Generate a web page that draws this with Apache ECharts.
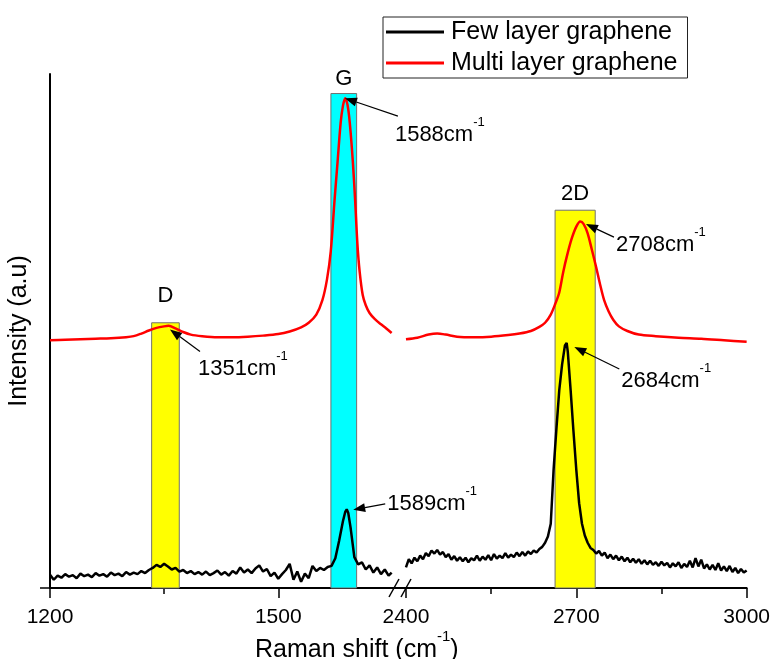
<!DOCTYPE html>
<html><head><meta charset="utf-8">
<script src="https://cdn.jsdelivr.net/npm/echarts@6/dist/echarts.min.js"></script>
<style>html,body{margin:0;padding:0;background:#fff}#c{width:773px;height:659px}</style>
</head><body><div id="c"></div>
<script>
const FONT = "'Liberation Sans', Arial, sans-serif";

// ---- data ----
const seriesNames = ['Few layer graphene', 'Multi layer graphene'];
const leftTicks = [1200, 1500];
const leftMinorTicks = [1350];
const rightTicks = [2400, 2700, 3000];
const rightMinorTicks = [2550, 2850];

const fewLeft = [
[1200,2.6],[1205,1.6],[1210,2.4],[1215,2.0],[1220,2.7],[1225,2.2],[1230,2.5],[1235,1.9],[1240,2.8],[1245,2.3],
[1250,2.6],[1255,2.1],[1260,2.9],[1265,2.4],[1270,2.7],[1275,2.2],[1280,3.0],[1285,2.5],[1290,2.8],[1295,2.3],
[1300,3.1],[1305,2.6],[1310,3.0],[1315,2.7],[1320,3.3],[1325,2.9],[1330,3.5],[1335,3.9],[1340,4.5],[1345,4.1],
[1350,4.7],[1355,4.2],[1360,3.6],[1365,3.9],[1370,3.2],[1375,3.5],[1380,2.9],[1385,3.3],[1390,2.7],[1395,3.1],
[1400,2.6],[1405,3.2],[1410,2.5],[1415,2.9],[1420,3.4],[1425,2.6],[1430,3.1],[1435,2.4],[1440,3.3],[1445,2.8],
[1450,4.0],[1455,3.0],[1460,3.6],[1465,2.9],[1470,3.8],[1475,4.4],[1480,3.2],[1485,3.7],[1490,2.3],[1495,3.0],
[1500,1.8],[1505,2.7],[1510,3.5],[1515,4.7],[1520,1.6],[1525,3.2],[1530,1.2],[1535,2.8],[1540,1.9],[1545,4.3],
[1550,3.3],[1555,3.9],[1560,3.5],[1565,4.1],[1570,4.3],[1575,5.8],[1580,9.2],[1585,13.0],[1588,14.8],[1590,15.3],
[1592,14.6],[1595,11.8],[1600,6.0],[1605,4.6],[1610,5.0],[1615,3.6],[1620,4.4],[1625,3.0],[1630,4.0],[1635,2.7],
[1640,3.6],[1645,2.4],[1649,3.0]
];

const fewRight = [
[2400,4.0],[2405,5.6],[2410,4.8],[2415,5.9],[2420,5.2],[2425,6.3],[2430,5.6],[2435,6.8],[2440,6.2],[2445,7.3],
[2450,6.7],[2455,7.4],[2460,6.5],[2465,7.0],[2470,6.0],[2475,6.6],[2480,5.5],[2485,6.2],[2490,5.3],[2495,6.0],
[2500,5.2],[2505,5.9],[2510,5.0],[2515,5.8],[2520,5.4],[2525,6.3],[2530,5.3],[2535,6.1],[2540,5.5],[2545,6.4],
[2550,5.4],[2555,6.6],[2560,5.7],[2565,6.3],[2570,5.8],[2575,6.8],[2580,5.9],[2585,6.5],[2590,6.0],[2595,6.9],
[2600,6.2],[2605,7.0],[2610,6.3],[2615,7.1],[2620,6.6],[2625,7.3],[2630,6.9],[2635,7.6],[2640,8.0],[2645,8.8],
[2650,10.0],[2655,12.5],[2660,23.0],[2665,31.0],[2670,38.5],[2675,43.5],[2680,47.2],[2683,47.7],[2685,46.0],[2690,38.5],
[2695,30.5],[2700,23.0],[2705,16.5],[2710,12.5],[2715,10.2],[2720,8.8],[2725,7.8],[2730,7.4],[2735,6.7],[2740,7.2],
[2745,6.3],[2750,6.9],[2755,5.8],[2760,6.5],[2765,5.6],[2770,6.3],[2775,5.4],[2780,6.1],[2785,5.2],[2790,5.9],
[2795,5.0],[2800,5.7],[2805,4.9],[2810,5.6],[2815,4.7],[2820,5.4],[2825,4.6],[2830,5.3],[2835,4.5],[2840,5.0],
[2845,4.3],[2850,5.1],[2855,4.4],[2860,4.9],[2865,4.0],[2870,4.8],[2875,4.2],[2880,5.0],[2885,3.9],[2890,4.7],
[2895,4.1],[2900,5.3],[2905,4.0],[2910,5.8],[2915,4.2],[2920,5.5],[2925,3.8],[2930,4.6],[2935,3.6],[2940,4.5],
[2945,3.5],[2950,4.8],[2955,3.4],[2960,4.2],[2965,3.3],[2970,4.3],[2975,3.1],[2980,3.9],[2985,2.9],[2990,3.7],
[2995,3.0],[3000,3.4]
];

const multiLeft = [
[1200,48.2],[1220,48.3],[1240,48.4],[1260,48.5],[1280,48.6],[1300,48.8],[1310,49.0],[1320,49.5],[1330,50.1],[1340,50.6],
[1350,50.9],[1356,51.0],[1365,50.5],[1375,49.8],[1385,49.3],[1400,49.0],[1420,48.8],[1440,48.8],[1460,48.9],[1480,49.1],
[1500,49.4],[1515,49.9],[1530,50.7],[1540,51.6],[1550,53.2],[1558,56.0],[1564,60.0],[1569,65.5],[1574,75.5],[1578,83.0],
[1582,90.5],[1585,93.8],[1588,95.3],[1591,94.0],[1594,90.5],[1598,83.0],[1601,75.5],[1604,67.0],[1607,61.5],[1611,57.0],
[1615,55.0],[1620,53.5],[1627,52.3],[1635,51.3],[1642,50.5],[1649,49.6]
];

const multiRight = [
[2400,48.4],[2420,48.7],[2440,49.3],[2455,49.5],[2470,49.3],[2490,48.9],[2520,48.8],[2550,48.9],[2580,49.2],[2600,49.5],
[2620,50.0],[2635,50.8],[2645,51.6],[2655,53.2],[2663,55.3],[2670,57.5],[2677,61.5],[2684,64.8],[2692,68.0],[2700,70.3],
[2707,71.3],[2713,70.8],[2720,69.0],[2727,66.0],[2735,62.4],[2742,59.0],[2749,56.0],[2757,53.8],[2765,52.2],[2775,50.9],
[2790,50.0],[2810,49.3],[2840,49.0],[2880,48.7],[2920,48.5],[2960,48.2],[3000,47.9]
];

// highlighted bands
const bandPanel = [0, 0, 1];
const bandFrom = [1333.6, 1569.2, 2662.6];
const bandTo = [1369.9, 1603.0, 2733.3];
const bandTop = [51.6, 96.2, 73.5];
const bandLabel = ['D', 'G', '2D'];

// peak annotations
const peakPanel = [0, 0, 0, 1, 1];
const peakX = [1357.7, 1587.6, 1598.5, 2717, 2696.5];
const peakY = [50.3, 95.3, 15.2, 70.8, 46.9];
const peakLabel = ['1351', '1588', '1589', '2708', '2684'];

// ---- styles / layout ----
const bandColors = ['#ffff00', '#00ffff', '#ffff00'];
const bandLabelGap = [15, 3, 5];
const arrowOffset = [[30, 22], [53, 18], [32, -6], [28, 13], [45, 22]];
const textOffset = [[-2, 13], [-3, 15], [2, -4], [2, 4], [2, 8]];

const chart = echarts.init(document.getElementById('c'));

function bandData(panel) {
  const out = [];
  for (let i = 0; i < bandLabel.length; i++) {
    if (bandPanel[i] !== panel) continue;
    out.push([
      { name: bandLabel[i], xAxis: bandFrom[i], yAxis: 0,
        itemStyle: { color: bandColors[i], borderColor: '#707070', borderWidth: 1, opacity: 1 },
        label: { show: true, position: 'top', distance: bandLabelGap[i], fontSize: 22, color: '#000', fontFamily: FONT } },
      { xAxis: bandTo[i], yAxis: bandTop[i] }
    ]);
  }
  return out;
}

const plainNum = v => String(Math.round(v));
const xCommon = {
  type: 'value', position: 'bottom', splitLine: { show: false },
  axisLine: { show: true, onZero: false, lineStyle: { color: '#000', width: 2 } }
};

const option = {
  animation: false,
  textStyle: { fontFamily: FONT, color: '#000' },
  title: {
    text: '{m|Raman shift (cm}{s|-1}{m|)}',
    left: 255, top: 629, padding: 0,
    textStyle: { fontFamily: FONT, fontWeight: 'normal', color: '#000',
      rich: { m: { fontSize: 25, lineHeight: 34, verticalAlign: 'bottom', fontFamily: FONT, color: '#000' },
              s: { fontSize: 15, verticalAlign: 'top', fontFamily: FONT, color: '#000' } } }
  },
  legend: {
    data: seriesNames, orient: 'vertical', left: 383, top: 17, icon: 'rect',
    padding: [2, 10, 2, 3], itemGap: 5, itemWidth: 58, itemHeight: 3,
    borderColor: '#222', borderWidth: 1, backgroundColor: '#fff',
    textStyle: { fontFamily: FONT, fontSize: 25, color: '#000', lineHeight: 26, padding: [0, 0, 0, 2] }
  },
  grid: [
    { left: 50, top: 74, width: 350, height: 514 },
    { left: 400, top: 74, width: 348, height: 514 }
  ],
  xAxis: [
    Object.assign({}, xCommon, { gridIndex: 0, min: 1200, max: 1660,
      axisTick: { show: true, customValues: leftTicks, length: 10, lineStyle: { color: '#000', width: 1.5 } },
      axisLabel: { show: true, customValues: leftTicks, formatter: plainNum, fontSize: 21, color: '#000', margin: 19, fontFamily: FONT } }),
    Object.assign({}, xCommon, { gridIndex: 1, min: 2389.5, max: 3000,
      axisTick: { show: true, customValues: rightTicks, length: 10, lineStyle: { color: '#000', width: 1.5 } },
      axisLabel: { show: true, customValues: rightTicks, formatter: plainNum, fontSize: 21, color: '#000', margin: 19, fontFamily: FONT } }),
    { type: 'value', gridIndex: 0, position: 'bottom', min: 1200, max: 1660, splitLine: { show: false },
      axisLine: { show: false }, axisLabel: { show: false },
      axisTick: { show: true, customValues: leftMinorTicks, length: 6, lineStyle: { color: '#000', width: 1.5 } } },
    { type: 'value', gridIndex: 1, position: 'bottom', min: 2389.5, max: 3000, splitLine: { show: false },
      axisLine: { show: false }, axisLabel: { show: false },
      axisTick: { show: true, customValues: rightMinorTicks, length: 6, lineStyle: { color: '#000', width: 1.5 } } }
  ],
  yAxis: [
    { type: 'value', gridIndex: 0, min: 0, max: 100, splitLine: { show: false },
      axisLine: { show: true, onZero: false, lineStyle: { color: '#000', width: 2 } },
      axisTick: { show: true, customValues: [0], length: 10, lineStyle: { color: '#000', width: 1.5 } },
      axisLabel: { show: false },
      name: 'Intensity (a.u)', nameLocation: 'middle', nameGap: 18,
      nameTextStyle: { fontSize: 25, color: '#000', fontFamily: FONT } },
    { type: 'value', gridIndex: 1, min: 0, max: 100, show: false }
  ],
  series: [
    { type: 'line', xAxisIndex: 0, yAxisIndex: 0, data: [], z: 1, silent: true,
      markArea: { silent: true, data: bandData(0) } },
    { type: 'line', xAxisIndex: 1, yAxisIndex: 1, data: [], z: 1, silent: true,
      markArea: { silent: true, data: bandData(1) } },
    { name: seriesNames[0], type: 'line', xAxisIndex: 0, yAxisIndex: 0, data: fewLeft, symbol: 'none', z: 3,
      lineStyle: { color: '#000', width: 2.5 }, itemStyle: { color: '#000' } },
    { name: seriesNames[0], type: 'line', xAxisIndex: 1, yAxisIndex: 1, data: fewRight, symbol: 'none', z: 3,
      lineStyle: { color: '#000', width: 2.5 }, itemStyle: { color: '#000' } },
    { name: seriesNames[1], type: 'line', xAxisIndex: 0, yAxisIndex: 0, data: multiLeft, symbol: 'none', z: 3, smooth: 0.3,
      lineStyle: { color: '#ff0000', width: 2.5 }, itemStyle: { color: '#ff0000' } },
    { name: seriesNames[1], type: 'line', xAxisIndex: 1, yAxisIndex: 1, data: multiRight, symbol: 'none', z: 3, smooth: 0.3,
      lineStyle: { color: '#ff0000', width: 2.5 }, itemStyle: { color: '#ff0000' } }
  ]
};
chart.setOption(option);

// annotations and axis-break marks
const g = [];
for (let i = 0; i < peakLabel.length; i++) {
  const head = chart.convertToPixel({ gridIndex: peakPanel[i] }, [peakX[i], peakY[i]]);
  const tail = [head[0] + arrowOffset[i][0], head[1] + arrowOffset[i][1]];
  const dx = head[0] - tail[0], dy = head[1] - tail[1];
  const len = Math.sqrt(dx * dx + dy * dy);
  const ux = dx / len, uy = dy / len;
  const hl = 12, hw = 4.5;
  const bx = head[0] - ux * hl, by = head[1] - uy * hl;
  g.push({ type: 'line', z: 20, shape: { x1: tail[0], y1: tail[1], x2: bx, y2: by }, style: { stroke: '#000', lineWidth: 1.2 } });
  g.push({ type: 'polygon', z: 20, shape: { points: [[head[0], head[1]], [bx - uy * hw, by + ux * hw], [bx + uy * hw, by - ux * hw]] }, style: { fill: '#000' } });
  g.push({ type: 'text', z: 20, x: tail[0] + textOffset[i][0], y: tail[1] + textOffset[i][1],
    style: { text: '{m|' + peakLabel[i] + 'cm}{s|-1}', align: 'left', verticalAlign: 'middle',
      rich: { m: { fontSize: 22, lineHeight: 30, verticalAlign: 'bottom', fontFamily: FONT, fill: '#000' },
              s: { fontSize: 13, verticalAlign: 'top', fontFamily: FONT, fill: '#000' } } } });
}
g.push({ type: 'line', z: 20, shape: { x1: 389, y1: 597, x2: 399, y2: 579 }, style: { stroke: '#000', lineWidth: 1.5 } });
g.push({ type: 'line', z: 20, shape: { x1: 401, y1: 597, x2: 411, y2: 579 }, style: { stroke: '#000', lineWidth: 1.5 } });
chart.setOption({ graphic: g });
</script>
</body></html>
